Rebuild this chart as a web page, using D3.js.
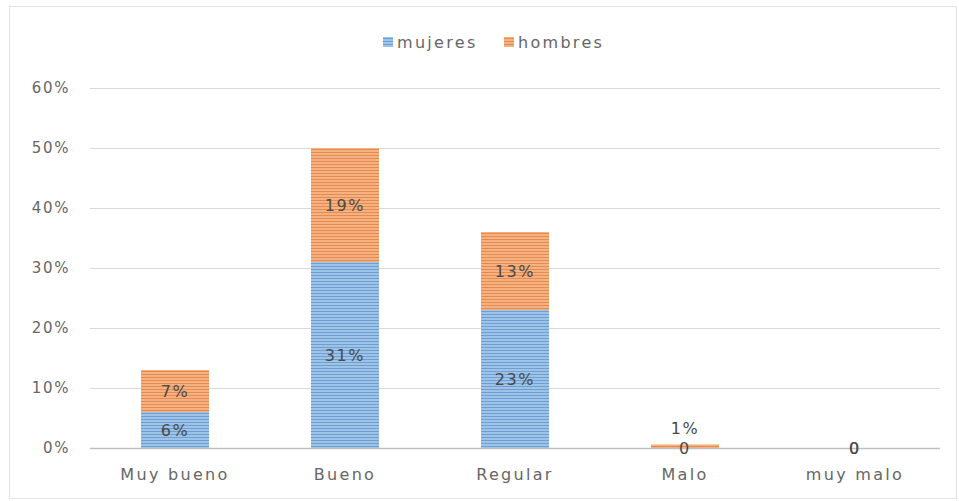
<!DOCTYPE html>
<html><head><meta charset="utf-8">
<script src="https://cdn.jsdelivr.net/npm/d3@7/dist/d3.min.js"></script>
<style>body{margin:0;background:#fff}text{font-family:"DejaVu Sans",sans-serif;letter-spacing:1.6px}</style>
</head><body><svg id="c" width="959" height="501"></svg>
<script>
const categories = ["Muy bueno","Bueno","Regular","Malo","muy malo"];
const mujeres = [6,31,23,0,0];
const hombres = [7,19,13,0.6,0];
const mujeresLabels = ["6%","31%","23%","0","0"];
const hombresLabels = ["7%","19%","13%","1%","0"];
const seriesNames = ["mujeres","hombres"];
const yTicks = [0,10,20,30,40,50,60];

const svg = d3.select("#c");
const W=959,H=501;
const m={l:90,r:19,t:88,b:53};
svg.append("rect").attr("x",9.5).attr("y",6.5).attr("width",W-12).attr("height",H-9).attr("fill","#fff").attr("stroke","#e3e3e3");

const defs=svg.append("defs");
function pat(id,light,dark){
  const p=defs.append("pattern").attr("id",id).attr("patternUnits","userSpaceOnUse").attr("width",6).attr("height",3);
  p.append("rect").attr("width",6).attr("height",3).attr("fill",light);
  p.append("rect").attr("y",2).attr("width",6).attr("height",1).attr("fill",dark);
}
pat("pb","#9dc3e6","#6f9fd4");
pat("po","#f4b183","#e88a4a");
const fills=["url(#pb)","url(#po)"];

const x=d3.scaleBand().domain(categories).range([m.l,W-m.r]).paddingInner(0.6).paddingOuter(0.3);
const y=d3.scaleLinear().domain([0,60]).range([H-m.b,m.t]);

svg.append("g").selectAll("line").data(yTicks.slice(1)).join("line")
  .attr("x1",m.l).attr("x2",W-m.r).attr("y1",d=>Math.round(y(d))+0.5).attr("y2",d=>Math.round(y(d))+0.5)
  .attr("stroke","#d9d9d9");

const yAxis=svg.append("g").attr("transform",`translate(${m.l-20},0)`)
  .call(d3.axisLeft(y).tickValues(yTicks).tickFormat(d=>d+"%").tickSize(0).tickPadding(0));
yAxis.select(".domain").remove();
yAxis.selectAll("text").attr("fill","#666").style("font-size","15px").style("font-family","DejaVu Sans");

const stack=categories.map((c,i)=>({c,vals:[mujeres[i],hombres[i]],labs:[mujeresLabels[i],hombresLabels[i]]}));
stack.forEach(d=>{
  let base=0;
  d.vals.forEach((v,k)=>{
    svg.append("rect").attr("x",x(d.c)).attr("width",x.bandwidth())
      .attr("y",y(base+v)).attr("height",y(base)-y(base+v)).attr("fill",fills[k]);
    base+=v;
  });
});

svg.append("line").attr("x1",m.l).attr("x2",W-m.r).attr("y1",y(0)+0.5).attr("y2",y(0)+0.5).attr("stroke","#bfbfbf").attr("stroke-width",1.5);

stack.forEach(d=>{
  let base=0;
  d.vals.forEach((v,k)=>{
    let cy=y(base+v/2);
    if(v>0 && v<3) cy=y(base+v)-16;
    svg.append("text").attr("x",x(d.c)+x.bandwidth()/2).attr("y",cy).attr("dy","0.35em")
      .attr("text-anchor","middle").attr("fill","#4a4a4a").style("font-size","16px").text(d.labs[k]);
    base+=v;
  });
});

const xAxis=svg.append("g").attr("transform",`translate(0,${y(0)})`)
  .call(d3.axisBottom(x).tickSize(0).tickPadding(21));
xAxis.select(".domain").remove();
xAxis.selectAll("text").attr("fill","#666").style("font-size","16px").style("letter-spacing","2.3px").style("font-family","DejaVu Sans");

const leg=svg.append("g");
const legX=[383,504];
seriesNames.forEach((n,i)=>{
  leg.append("rect").attr("x",legX[i]).attr("y",37).attr("width",10).attr("height",10).attr("fill",fills[i]);
  leg.append("text").attr("x",legX[i]+14).attr("y",42).attr("dy","0.35em").attr("fill","#666").style("font-size","16px").style("letter-spacing","2.3px").text(n);
});
</script></body></html>
